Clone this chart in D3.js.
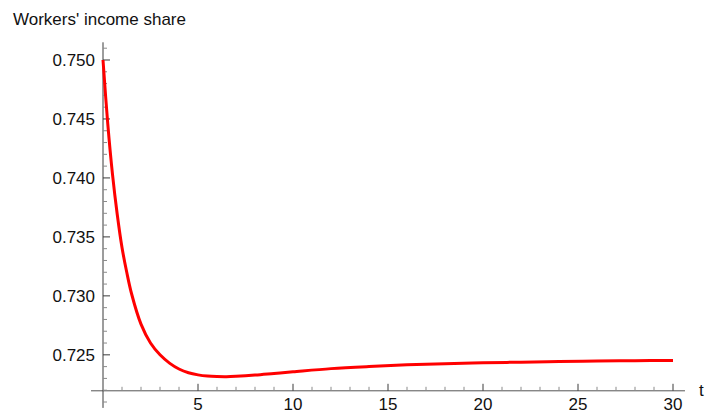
<!DOCTYPE html>
<html>
<head>
<meta charset="utf-8">
<script src="https://cdn.jsdelivr.net/npm/d3@7"></script>
<style>
  html, body { margin: 0; padding: 0; background: #fff; }
  svg { display: block; font-family: "Liberation Sans", Arial, sans-serif; }
</style>
</head>
<body>
<svg id="chart" width="707" height="414"></svg>
<script>
// Time points and the workers' income share along the path
const times = [0, 0.25, 0.5, 0.75, 1, 1.25, 1.5, 2, 2.5, 3, 3.5, 4, 4.5, 5, 5.5, 6, 6.5, 7, 8, 9, 10, 12, 14, 16, 18, 20, 22, 24, 26, 28, 30];
const shares = [0.7500, 0.7446, 0.7403, 0.7369, 0.7341, 0.7320, 0.7302, 0.7276, 0.7260, 0.7250, 0.7243, 0.7238, 0.72348, 0.72330, 0.72320, 0.72316, 0.72315, 0.72318, 0.72328, 0.72342, 0.72356, 0.72383, 0.72401, 0.72415, 0.72425, 0.72432, 0.72438, 0.72443, 0.72447, 0.72450, 0.72452];

const xMajorTicks = [5, 10, 15, 20, 25, 30];
const yMajorTicks = [0.725, 0.730, 0.735, 0.740, 0.745, 0.750];
const yLabel = "Workers' income share";
const xLabel = "t";

const svg = d3.select("#chart");

const x = d3.scaleLinear().domain([0, 30]).range([103, 673]);
const y = d3.scaleLinear().domain([0.7205, 0.7515]).range([407.9, 42.3]);
const xAxisValue = 0.72195;          // where the horizontal axis crosses
const xExtent = [-0.63, 30.63];

const axisColor = "#3a3a3a";
const minorColor = "#8a8a8a";
const fontSize = 17;

// Horizontal axis line
svg.append("line")
  .attr("x1", x(xExtent[0])).attr("x2", x(xExtent[1]))
  .attr("y1", y(xAxisValue)).attr("y2", y(xAxisValue))
  .attr("stroke", "#555").attr("stroke-width", 1);

// Vertical axis line
svg.append("line")
  .attr("x1", x(0)).attr("x2", x(0))
  .attr("y1", y.range()[0]).attr("y2", y.range()[1])
  .attr("stroke", axisColor).attr("stroke-width", 1);

// x ticks (point up into the plot)
const xMinor = d3.range(1, 31).filter(v => v % 5 !== 0);
const xAxisY = y(xAxisValue);
svg.append("g").selectAll("line").data(xMinor).join("line")
  .attr("x1", d => x(d)).attr("x2", d => x(d))
  .attr("y1", xAxisY).attr("y2", xAxisY - 4)
  .attr("stroke", minorColor).attr("stroke-width", 1);
svg.append("g").selectAll("line").data(xMajorTicks).join("line")
  .attr("x1", d => x(d)).attr("x2", d => x(d))
  .attr("y1", xAxisY).attr("y2", xAxisY - 7)
  .attr("stroke", axisColor).attr("stroke-width", 1);
svg.append("g").selectAll("text").data(xMajorTicks).join("text")
  .attr("x", d => x(d)).attr("y", xAxisY + 19)
  .attr("text-anchor", "middle")
  .attr("font-size", fontSize).attr("fill", "#111")
  .text(d => d3.format("d")(d));

// y ticks (point right into the plot)
const yMinor = d3.range(721, 752).map(v => v / 1000).filter(v => Math.round(v * 1000) % 5 !== 0);
svg.append("g").selectAll("line").data(yMinor).join("line")
  .attr("x1", x(0)).attr("x2", x(0) + 4)
  .attr("y1", d => y(d)).attr("y2", d => y(d))
  .attr("stroke", minorColor).attr("stroke-width", 1);
svg.append("g").selectAll("line").data(yMajorTicks).join("line")
  .attr("x1", x(0)).attr("x2", x(0) + 7)
  .attr("y1", d => y(d)).attr("y2", d => y(d))
  .attr("stroke", axisColor).attr("stroke-width", 1);
svg.append("g").selectAll("text").data(yMajorTicks).join("text")
  .attr("x", x(0) - 8).attr("y", d => y(d))
  .attr("dy", "0.36em")
  .attr("text-anchor", "end")
  .attr("font-size", fontSize).attr("fill", "#111")
  .text(d => d3.format(".3f")(d));

// Axis labels
svg.append("text")
  .attr("x", 13).attr("y", 25)
  .attr("font-size", fontSize).attr("fill", "#111")
  .text(yLabel);
svg.append("text")
  .attr("x", 699).attr("y", xAxisY + 5)
  .attr("font-size", fontSize).attr("fill", "#111")
  .text(xLabel);

// The curve
const pts = times.map((t, i) => [t, shares[i]]);
const line = d3.line()
  .x(d => x(d[0])).y(d => y(d[1]))
  .curve(d3.curveCatmullRom.alpha(0.5));
svg.append("path")
  .datum(pts)
  .attr("d", line)
  .attr("fill", "none")
  .attr("stroke", "#ff0000")
  .attr("stroke-width", 3)
  .attr("stroke-linejoin", "round");
</script>
</body>
</html>
